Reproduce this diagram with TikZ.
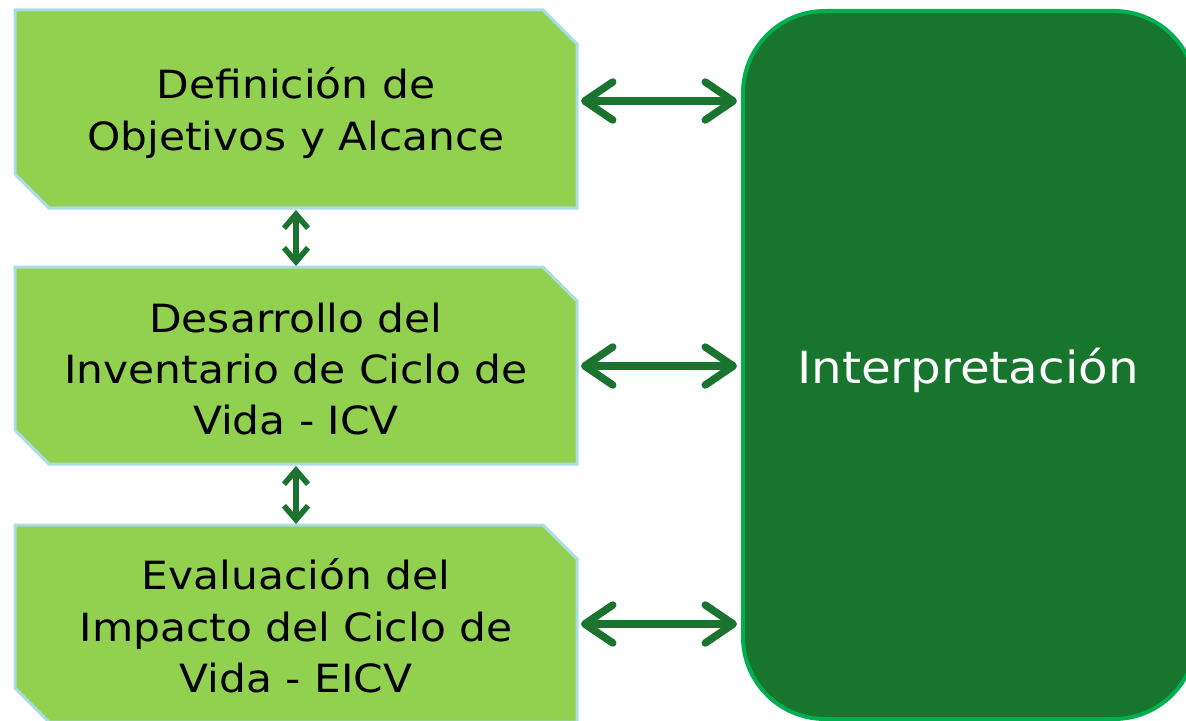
\documentclass[tikz,border=0pt]{standalone}
\usepackage{fontspec}
\setmainfont[FakeStretch=1.09]{DejaVu Sans}
\usetikzlibrary{arrows.meta}
\definecolor{boxfill}{HTML}{92D050}
\definecolor{boxline}{HTML}{A9DCE3}
\definecolor{darkg}{HTML}{18752E}
\definecolor{brightg}{HTML}{00B050}
\definecolor{arrowg}{HTML}{1A7430}
\tikzset{
  stepshape/.style={fill=boxfill,draw=boxline,line width=3bp},
  steptext/.style={align=center,font=\fontsize{39}{51.5}\selectfont,text=black,inner sep=0},
  bigarrow/.style={draw=arrowg,line width=7.5bp,line cap=round,
    {Straight Barb[length=28bp,width=38bp,line cap=round,line join=round]}-{Straight Barb[length=28bp,width=38bp,line cap=round,line join=round]}},
  smallarrow/.style={draw=arrowg,line width=5.5bp,
    {Straight Barb[length=14bp,width=24bp]}-{Straight Barb[length=14bp,width=24bp]}},
}
\begin{document}
\begin{tikzpicture}[x=1bp,y=-1bp]
\useasboundingbox (0,0) rectangle (1186,721);
% step boxes
\draw[stepshape] (15,10) -- (543,10) -- (577,44) -- (577,208) -- (49,208) -- (15,174) -- cycle;
\draw[stepshape] (15,267) -- (543,267) -- (577,301) -- (577,464) -- (49,464) -- (15,430) -- cycle;
\draw[stepshape] (15,525) -- (543,525) -- (577,559) -- (577,722) -- (49,722) -- (15,688) -- cycle;
\coordinate (b1r) at (578,101);
\coordinate (b2r) at (578,366);
\coordinate (b3r) at (578,624);
\node[steptext] (t1) at (296,113) {Definición de\\Objetivos y Alcance};
\node[steptext] (t2) at (296,369) {Desarrollo del\\Inventario de Ciclo de\\Vida - ICV};
\node[steptext] (t3) at (296,626) {Evaluación del\\Impacto del Ciclo de\\Vida - EICV};
% interpretation box
\draw[fill=darkg,draw=brightg,line width=4bp,rounded corners=82bp] (743,11) rectangle (1196,719);
\node[font=\fontsize{44.5}{50}\selectfont,text=white,inner sep=0] (t4) at (968,370) {Interpretación};
\coordinate (i1) at (741,101);
\coordinate (i2) at (741,366);
\coordinate (i3) at (741,624);
% arrows
\coordinate (v1a) at (296,210);
\coordinate (v1b) at (296,266);
\coordinate (v2a) at (296,466);
\coordinate (v2b) at (296,524);
\draw[bigarrow] ([xshift=3bp]b1r) -- ([xshift=-4bp]i1);
\draw[bigarrow] ([xshift=3bp]b2r) -- ([xshift=-4bp]i2);
\draw[bigarrow] ([xshift=3bp]b3r) -- ([xshift=-4bp]i3);
\draw[smallarrow] (v1a) -- (v1b);
\draw[smallarrow] (v2a) -- (v2b);
\end{tikzpicture}
\end{document}
